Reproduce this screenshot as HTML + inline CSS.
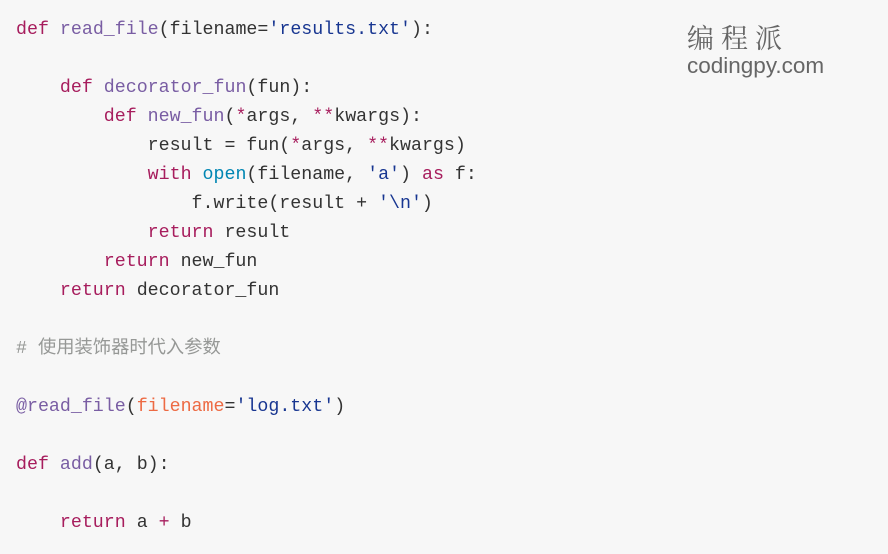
<!DOCTYPE html>
<html><head><meta charset="utf-8"><style>
html,body{margin:0;padding:0;width:888px;height:554px;overflow:hidden;background:#f7f7f7;}
pre{margin:0;position:absolute;left:16px;top:16px;font-family:"Liberation Mono","Noto Sans CJK SC",monospace;font-size:18.3px;line-height:29px;color:#333;}
.k{color:#a71d5d}.f{color:#795da3}.s{color:#183691}.b{color:#0086b3}.c{color:#969896;font-family:"Liberation Mono","Noto Sans CJK SC",monospace}.o{color:#ed6a43}
.wm1{position:absolute;left:687px;top:17px;font-family:"Noto Serif CJK SC","Noto Sans CJK SC",serif;font-size:27px;color:#666;letter-spacing:7px}
.wm2{position:absolute;left:687px;top:53px;font-family:"Liberation Sans",sans-serif;font-size:22.5px;color:#666}
</style></head><body>
<pre><span class="k">def</span> <span class="f">read_file</span>(filename=<span class="s">'results.txt'</span>):

    <span class="k">def</span> <span class="f">decorator_fun</span>(fun):
        <span class="k">def</span> <span class="f">new_fun</span>(<span class="k">*</span>args, <span class="k">**</span>kwargs):
            result = fun(<span class="k">*</span>args, <span class="k">**</span>kwargs)
            <span class="k">with</span> <span class="b">open</span>(filename, <span class="s">'a'</span>) <span class="k">as</span> f:
                f.write(result + <span class="s">'\n'</span>)
            <span class="k">return</span> result
        <span class="k">return</span> new_fun
    <span class="k">return</span> decorator_fun

<span class="c"># 使用装饰器时代入参数</span>

<span class="f">@read_file</span>(<span class="o">filename</span>=<span class="s">'log.txt'</span>)

<span class="k">def</span> <span class="f">add</span>(a, b):

    <span class="k">return</span> a <span class="k">+</span> b</pre>
<div class="wm1">编程派</div>
<div class="wm2">codingpy.com</div>
</body></html>
